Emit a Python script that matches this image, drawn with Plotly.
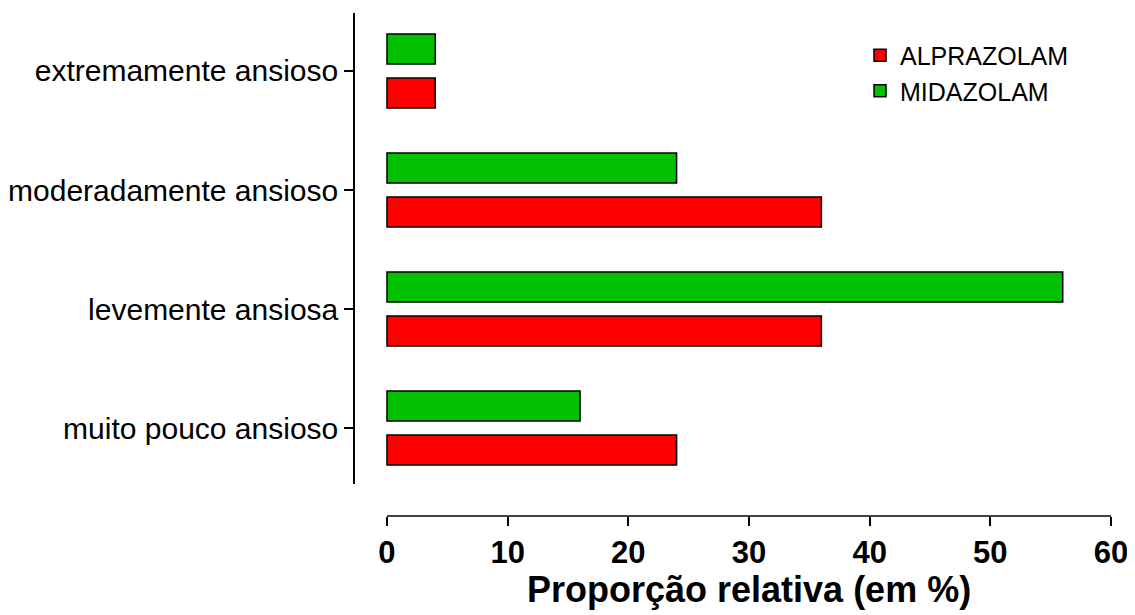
import plotly.graph_objects as go

categories = ["muito pouco ansioso", "levemente ansiosa", "moderadamente ansioso", "extremamente ansioso"]
alprazolam = [24, 36, 36, 4]
midazolam = [16, 56, 24, 4]
x_ticks = [0, 10, 20, 30, 40, 50, 60]
x_title = "Proporção relativa (em %)"

FONT = "Liberation Sans, Arial, Helvetica, sans-serif"

fig = go.Figure()
fig.add_trace(go.Bar(y=categories, x=alprazolam, orientation="h", name="ALPRAZOLAM",
                     legendgroup="a",
                     marker=dict(color="#ff0000", line=dict(color="black", width=1.5))))
fig.add_trace(go.Bar(y=categories, x=midazolam, orientation="h", name="MIDAZOLAM",
                     legendgroup="m",
                     marker=dict(color="#00c000", line=dict(color="black", width=1.5))))

fig.update_layout(
    width=1127, height=607,
    margin=dict(l=347, r=24, t=5, b=99, autoexpand=False),
    plot_bgcolor="white", paper_bgcolor="white",
    barmode="group", bargap=0.26, bargroupgap=0.32,
    font=dict(family=FONT, color="black"),
    legend=dict(x=0.668, y=0.961, xanchor="left", yanchor="top", traceorder="normal",
                font=dict(size=25), bgcolor="rgba(0,0,0,0)", itemwidth=30,
                tracegroupgap=6),
    xaxis=dict(range=[-2.65, 60], tickvals=x_ticks, ticks="outside", ticklen=9,
               tickwidth=1.5, tickcolor="black", showgrid=False, zeroline=False,
               showline=False, anchor="free", position=0, automargin=False,
               ticklabeloverflow="allow",
               tickfont=dict(size=31, family=FONT, weight="bold")),
    yaxis=dict(domain=[0.0636, 1], categoryorder="array", categoryarray=categories,
               range=[-0.47, 3.487], showline=True, linecolor="black", linewidth=1.5,
               ticks="outside", ticklen=9, tickwidth=1.5, tickcolor="black",
               automargin=False, ticklabeloverflow="allow",
               showgrid=False, zeroline=False, tickfont=dict(size=30, family=FONT)),
)
fig.add_shape(type="line", xref="x", yref="paper", x0=0, x1=60, y0=0, y1=0,
              line=dict(color="black", width=1.5))
fig.add_annotation(text=x_title, xref="x", x=(x_ticks[0] + x_ticks[-1]) / 2,
                   yref="paper", y=0, yanchor="middle", yshift=-73, showarrow=False,
                   font=dict(size=36, family=FONT, weight="bold"))

fig.write_html("out.html")
